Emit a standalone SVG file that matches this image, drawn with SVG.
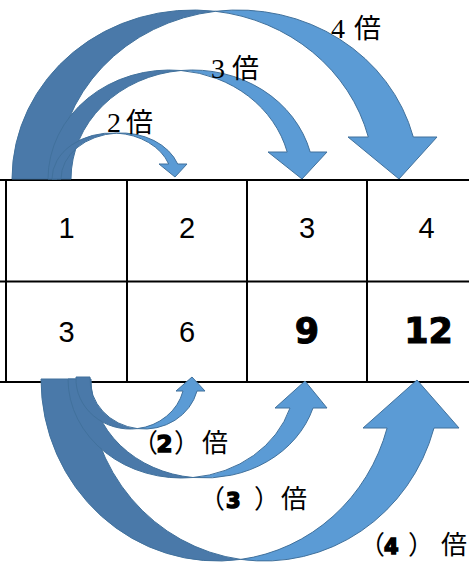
<svg xmlns="http://www.w3.org/2000/svg" width="469" height="564" viewBox="0 0 469 564">
<style>
.grid{stroke:#000;stroke-width:2;fill:none}
.back{fill:#4a79a9;stroke:#41719c;stroke-width:1}
.front{fill:#5b9bd5;stroke:#41719c;stroke-width:1}
.num{font-family:"Liberation Sans",Arial,sans-serif;font-size:29px;fill:#000;text-anchor:middle}
.big{font-family:"DejaVu Sans",sans-serif;font-weight:bold;font-size:35px;fill:#000;stroke:#000;stroke-width:1;text-anchor:middle}
.lbl{font-family:"Noto Sans CJK JP",sans-serif;font-size:27px;fill:#000}
.dg{font-family:"Liberation Serif",serif;font-size:28px}
.bd{font-family:"DejaVu Sans",sans-serif;font-weight:bold;stroke:#000;stroke-width:1.5}
.bl{font-family:"Noto Sans CJK JP",sans-serif;font-size:26px;fill:#000}
</style>
<g id="grid">
<line class="grid" x1="0" y1="180" x2="469" y2="180"/>
<line class="grid" x1="0" y1="281.5" x2="469" y2="281.5"/>
<line class="grid" x1="0" y1="382" x2="469" y2="382"/>
<line class="grid" x1="6" y1="180" x2="6" y2="382"/>
<line class="grid" x1="127" y1="180" x2="127" y2="382"/>
<line class="grid" x1="247" y1="180" x2="247" y2="382"/>
<line class="grid" x1="367" y1="180" x2="367" y2="382"/>
</g>
<g id="cells">
<text class="num" x="66.5" y="238">1</text>
<text class="num" x="187" y="238">2</text>
<text class="num" x="307" y="238">3</text>
<text class="num" x="426.5" y="238">4</text>
<text class="num" x="66.5" y="342">3</text>
<text class="num" x="187" y="342">6</text>
<text class="big" x="307" y="343">9</text>
<text class="big" x="428.5" y="343">12</text>
</g>
<g id="connectors">
<g id="top4">
<path class="back" d="M12,179 A181,169 0 0 1 215.5,11.3 A181,169 0 0 0 57,179 Z"/>
<path class="front" d="M215.5,11.3 A181,169 0 0 1 413.3,137 L437,137 L399,179 L348,137 L368.3,137 A181,169 0 0 0 215.5,11.3 Z"/>
</g>
<g id="top3">
<path class="back" d="M48,179 A121.5,109 0 0 1 181,70.5 A121.5,109 0 0 0 71,179 Z"/>
<path class="front" d="M181,70.5 A121.5,109 0 0 1 310.2,152 L327,152 L302,179 L268,152 L287.2,152 A121.5,109 0 0 0 181,70.5 Z"/>
</g>
<g id="top2">
<path class="back" d="M52,179 A60,46 0 0 1 116.5,133.1 A60,46 0 0 0 61,179 Z"/>
<path class="front" d="M116.5,133.1 A60,46 0 0 1 177.7,164 L187,164 L175,177 L159,164 L168.7,164 A60,46 0 0 0 116.5,133.1 Z"/>
</g>
<g id="bot4">
<path class="back" d="M41,379 A176.3,182 0 0 0 240.75,559.4 A176.3,182 0 0 1 87.9,379 Z"/>
<path class="front" d="M240.75,559.4 A176.3,182 0 0 0 434,428 L459,428 L417,380 L363,428 L387.1,428 A176.3,182 0 0 1 240.75,559.4 Z"/>
</g>
<g id="bot3">
<path class="back" d="M68,379 A113.5,99 0 0 0 193,477.5 A113.5,99 0 0 1 91,379 Z"/>
<path class="front" d="M193,477.5 A113.5,99 0 0 0 313,408 L327,408 L305,381 L275,408 L290,408 A113.5,99 0 0 1 193,477.5 Z"/>
</g>
<g id="bot2">
<path class="back" d="M76,377 A54.3,50 0 0 0 137.3,428.6 A54.3,50 0 0 1 90,377 Z"/>
<path class="front" d="M137.3,428.6 A54.3,50 0 0 0 197,391 L205,391 L192,377 L176,391 L183,391 A54.3,50 0 0 1 137.3,428.6 Z"/>
</g>
</g>
<g id="labels">
<text class="lbl" y="132"><tspan class="dg" x="107">2</tspan> <tspan x="126">倍</tspan></text>
<text class="lbl" y="78"><tspan class="dg" x="211">3</tspan> <tspan x="232">倍</tspan></text>
<text class="lbl" y="38"><tspan class="dg" x="331">4</tspan> <tspan x="354">倍</tspan></text>
<text class="bl" y="452"><tspan x="132">（</tspan><tspan class="bd" font-size="23" x="156.5">2</tspan><tspan x="174">）</tspan><tspan x="202">倍</tspan></text>
<text class="bl" y="508"><tspan x="199">（</tspan><tspan class="bd" font-size="21" x="226">3</tspan> <tspan x="254">）</tspan><tspan x="281">倍</tspan></text>
<text class="bl" y="554"><tspan x="359">（</tspan><tspan class="bd" font-size="21" x="384">4</tspan> <tspan x="408">）</tspan><tspan x="441">倍</tspan></text>
</g>
</svg>
